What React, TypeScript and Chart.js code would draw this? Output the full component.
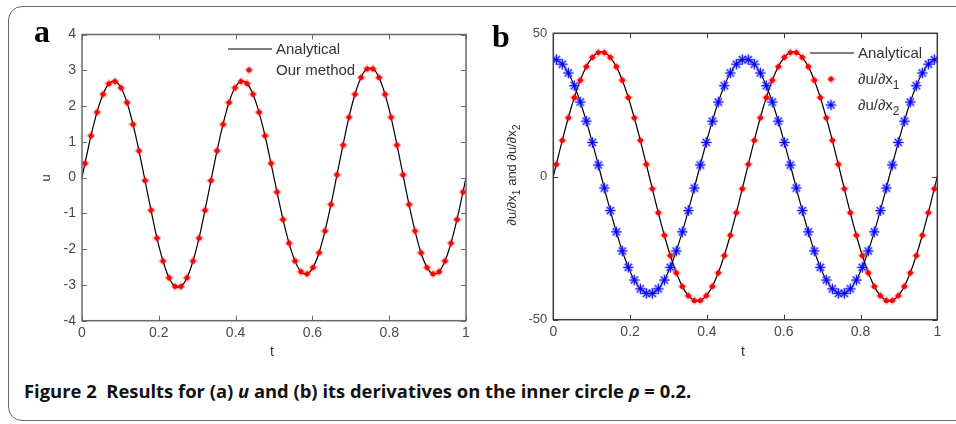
import React, { useEffect, useRef } from "react";
import { Chart, registerables } from "chart.js";
Chart.register(...registerables);

// ---------- data ----------
const markerT = [
  0.0078, 0.0234, 0.0391, 0.0547, 0.0703, 0.0859, 0.1016, 0.1172, 0.1328, 0.1484, 0.1641, 0.1797, 0.1953, 0.2109, 0.2266, 0.2422,
  0.2578, 0.2734, 0.2891, 0.3047, 0.3203, 0.3359, 0.3516, 0.3672, 0.3828, 0.3984, 0.4141, 0.4297, 0.4453, 0.4609, 0.4766, 0.4922,
  0.5078, 0.5234, 0.5391, 0.5547, 0.5703, 0.5859, 0.6016, 0.6172, 0.6328, 0.6484, 0.6641, 0.6797, 0.6953, 0.7109, 0.7266, 0.7422,
  0.7578, 0.7734, 0.7891, 0.8047, 0.8203, 0.8359, 0.8516, 0.8672, 0.8828, 0.8984, 0.9141, 0.9297, 0.9453, 0.9609, 0.9766, 0.9922,
];

const uMarkers = [
  0.40, 1.17, 1.83, 2.33, 2.63, 2.69, 2.51, 2.10, 1.49, 0.75, -0.08, -0.91, -1.69, -2.33, -2.80, -3.04,
  -3.04, -2.80, -2.33, -1.69, -0.91, -0.08, 0.75, 1.49, 2.10, 2.51, 2.69, 2.63, 2.33, 1.83, 1.17, 0.40,
  -0.40, -1.17, -1.83, -2.33, -2.63, -2.69, -2.51, -2.10, -1.49, -0.75, 0.08, 0.91, 1.69, 2.33, 2.80, 3.04,
  3.04, 2.80, 2.33, 1.69, 0.91, 0.08, -0.75, -1.49, -2.10, -2.51, -2.69, -2.63, -2.33, -1.83, -1.17, -0.40,
];
const uEnds = [0, 0];

const dx1Markers = [
  4.26, 12.63, 20.51, 27.60, 33.63, 38.36, 41.63, 43.29, 43.29, 41.63, 38.36, 33.63, 27.60, 20.51, 12.63, 4.26,
  -4.26, -12.63, -20.51, -27.60, -33.63, -38.36, -41.63, -43.29, -43.29, -41.63, -38.36, -33.63, -27.60, -20.51, -12.63, -4.26,
  4.26, 12.63, 20.51, 27.60, 33.63, 38.36, 41.63, 43.29, 43.29, 41.63, 38.36, 33.63, 27.60, 20.51, 12.63, 4.26,
  -4.26, -12.63, -20.51, -27.60, -33.63, -38.36, -41.63, -43.29, -43.29, -41.63, -38.36, -33.63, -27.60, -20.51, -12.63, -4.26,
];
const dx1Ends = [0, 0];

const dx2Markers = [
  40.80, 39.23, 36.16, 31.69, 26.01, 19.33, 11.90, 4.02, -4.02, -11.90, -19.33, -26.01, -31.69, -36.16, -39.23, -40.80,
  -40.80, -39.23, -36.16, -31.69, -26.01, -19.33, -11.90, -4.02, 4.02, 11.90, 19.33, 26.01, 31.69, 36.16, 39.23, 40.80,
  40.80, 39.23, 36.16, 31.69, 26.01, 19.33, 11.90, 4.02, -4.02, -11.90, -19.33, -26.01, -31.69, -36.16, -39.23, -40.80,
  -40.80, -39.23, -36.16, -31.69, -26.01, -19.33, -11.90, -4.02, 4.02, 11.90, 19.33, 26.01, 31.69, 36.16, 39.23, 40.80,
];
const dx2Ends = [41, 41];

const tRange = [0, 1];
const tStep = 0.2;
const uRange = [-4, 4];
const uStep = 1;
const dRange = [-50, 50];
const dStep = 50;

// ---------- styling ----------
const SANS = "'Liberation Sans', Arial, Helvetica, sans-serif";
const TICK_COLOR = "#4a4a4a";

function pts(ts: number[], ys: number[]) {
  return ts.map((t, i) => ({ x: t, y: ys[i] }));
}
function linePts(ends: number[], ts: number[], ys: number[]) {
  return [{ x: tRange[0], y: ends[0] }, ...pts(ts, ys), { x: tRange[1], y: ends[1] }];
}

function makeRedDot() {
  const c = document.createElement("canvas");
  c.width = 9;
  c.height = 9;
  const g = c.getContext("2d")!;
  g.fillStyle = "rgba(255,0,0,0.45)";
  g.fillRect(0.5, 3.5, 8, 2);
  g.fillRect(3.5, 0.5, 2, 8);
  g.beginPath();
  g.arc(4.5, 4.5, 2.6, 0, Math.PI * 2);
  g.fillStyle = "#ff0000";
  g.fill();
  return c;
}

function makeBlueStar() {
  const c = document.createElement("canvas");
  c.width = 15;
  c.height = 15;
  const g = c.getContext("2d")!;
  const cx = 7.5;
  const r = 5.2;
  const arms = (lw: number, col: string) => {
    g.strokeStyle = col;
    g.lineWidth = lw;
    g.beginPath();
    for (let i = 0; i < 4; i++) {
      const a = (i * Math.PI) / 4;
      g.moveTo(cx - r * Math.cos(a), cx - r * Math.sin(a));
      g.lineTo(cx + r * Math.cos(a), cx + r * Math.sin(a));
    }
    g.stroke();
  };
  arms(2.6, "rgba(120,120,255,0.4)");
  arms(1.1, "#0000ff");
  return c;
}

type Part = { t: string; sub?: boolean };

function drawParts(ctx: CanvasRenderingContext2D, parts: Part[], x: number, y: number, size: number, align: "left" | "center") {
  const widths = parts.map((p) => {
    ctx.font = `${p.sub ? size * 0.8 : size}px ${SANS}`;
    return ctx.measureText(p.t).width;
  });
  const total = widths.reduce((a, b) => a + b, 0);
  let cx = align === "center" ? x - total / 2 : x;
  ctx.textAlign = "left";
  ctx.textBaseline = "middle";
  parts.forEach((p, i) => {
    ctx.font = `${p.sub ? size * 0.8 : size}px ${SANS}`;
    ctx.fillText(p.t, cx, p.sub ? y + size * 0.38 : y);
    cx += widths[i];
  });
}

type LegendEntry = { kind: "line" | "img"; img?: HTMLCanvasElement; parts: Part[] };

function decorPlugin(cfg: {
  frameColor: string;
  xTitle: string;
  xTitleX: number;
  xTitleY: number;
  yTitle: Part[];
  yTitleX: number;
  yTitleY: number;
  yTitleSize: number;
  legend: LegendEntry[];
  legX: number;
  legY: number;
  legGap: number;
  legSize: number;
}) {
  return {
    id: "decor",
    afterDatasetsDraw(chart: any) {
      const { ctx, chartArea: ca, scales } = chart;
      ctx.save();
      // frame
      ctx.strokeStyle = cfg.frameColor;
      ctx.lineWidth = 1.5;
      ctx.strokeRect(ca.left, ca.top, ca.right - ca.left, ca.bottom - ca.top);
      // inward ticks on all four sides
      const L = 5;
      ctx.lineWidth = 1;
      ctx.beginPath();
      scales.x.ticks.forEach((tk: any) => {
        const px = Math.round(scales.x.getPixelForValue(tk.value)) + 0.5;
        ctx.moveTo(px, ca.bottom);
        ctx.lineTo(px, ca.bottom - L);
        ctx.moveTo(px, ca.top);
        ctx.lineTo(px, ca.top + L);
      });
      scales.y.ticks.forEach((tk: any) => {
        const py = Math.round(scales.y.getPixelForValue(tk.value)) + 0.5;
        ctx.moveTo(ca.left, py);
        ctx.lineTo(ca.left + L, py);
        ctx.moveTo(ca.right, py);
        ctx.lineTo(ca.right - L, py);
      });
      ctx.stroke();

      // axis titles
      ctx.fillStyle = "#333";
      ctx.font = `14px ${SANS}`;
      ctx.textAlign = "center";
      ctx.textBaseline = "middle";
      ctx.fillText(cfg.xTitle, cfg.xTitleX, cfg.xTitleY);
      ctx.save();
      ctx.translate(cfg.yTitleX, cfg.yTitleY);
      ctx.rotate(-Math.PI / 2);
      drawParts(ctx, cfg.yTitle, 0, 0, cfg.yTitleSize, "center");
      ctx.restore();

      // legend
      cfg.legend.forEach((e, i) => {
        const y = cfg.legY + i * cfg.legGap;
        const x0 = cfg.legX;
        if (e.kind === "line") {
          ctx.strokeStyle = "#000";
          ctx.lineWidth = 1.2;
          ctx.beginPath();
          ctx.moveTo(x0 - 48, y);
          ctx.lineTo(x0 - 4, y);
          ctx.stroke();
        } else if (e.img) {
          ctx.drawImage(e.img, x0 - 27 - e.img.width / 2, y - e.img.height / 2);
        }
        ctx.fillStyle = "#333";
        drawParts(ctx, e.parts, x0, y + 0.5, cfg.legSize, "left");
      });
      ctx.restore();
    },
  };
}

function scaleOpts(range: number[], step: number, size: number, pad: number, fit: (s: any) => void) {
  return {
    type: "linear" as const,
    min: range[0],
    max: range[1],
    ticks: {
      stepSize: step,
      color: TICK_COLOR,
      font: { family: SANS, size },
      padding: pad,
      maxRotation: 0,
      autoSkip: false,
      callback: (v: any) => {
        const n = Number(v);
        return Number.isInteger(Math.round(n * 1e6) / 1e6) ? String(Math.round(n)) : n.toFixed(1);
      },
    },
    grid: { display: false, drawTicks: false },
    border: { display: false },
    afterFit: fit,
  };
}

export default function App() {
  const refA = useRef<HTMLCanvasElement>(null);
  const refB = useRef<HTMLCanvasElement>(null);

  useEffect(() => {
    const redDot = makeRedDot();
    const blueStar = makeBlueStar();

    const chartA = new Chart(refA.current!, {
      type: "line",
      data: {
        datasets: [
          {
            label: "Our method",
            data: pts(markerT, uMarkers),
            showLine: false,
            pointStyle: redDot as any,
            pointRadius: 4,
            order: 1,
          },
          {
            label: "Analytical",
            data: linePts(uEnds, markerT, uMarkers),
            borderColor: "#000",
            borderWidth: 1.2,
            pointRadius: 0,
            tension: 0.35,
            fill: false,
            order: 2,
          },
        ],
      },
      options: {
        responsive: false,
        animation: false,
        events: [],
        layout: { padding: { left: 0, top: 34.5, right: 14, bottom: 0 } },
        plugins: { legend: { display: false }, tooltip: { enabled: false } },
        scales: {
          x: scaleOpts(tRange, tStep, 14, 4, (s: any) => { s.height = 49.3; }),
          y: scaleOpts(uRange, uStep, 14, 6, (s: any) => { s.width = 82; }),
        },
      } as any,
      plugins: [
        decorPlugin({
          frameColor: "#6a6a6a",
          xTitle: "t",
          xTitleX: 272,
          xTitleY: 352,
          yTitle: [{ t: "u" }],
          yTitleX: 46,
          yTitleY: 178,
          yTitleSize: 13,
          legend: [
            { kind: "line", parts: [{ t: "Analytical" }] },
            { kind: "img", img: redDot, parts: [{ t: "Our method" }] },
          ],
          legX: 276,
          legY: 49,
          legGap: 21,
          legSize: 15,
        }) as any,
      ],
    });

    const chartB = new Chart(refB.current!, {
      type: "line",
      data: {
        datasets: [
          {
            label: "∂u/∂x1",
            data: pts(markerT, dx1Markers),
            showLine: false,
            pointStyle: redDot as any,
            pointRadius: 4,
            order: 1,
          },
          {
            label: "∂u/∂x2",
            data: pts(markerT, dx2Markers),
            showLine: false,
            pointStyle: blueStar as any,
            pointRadius: 5,
            order: 1,
          },
          {
            label: "Analytical",
            data: linePts(dx1Ends, markerT, dx1Markers),
            borderColor: "#000",
            borderWidth: 1.2,
            pointRadius: 0,
            tension: 0.35,
            fill: false,
            order: 2,
          },
          {
            label: "Analytical 2",
            data: linePts(dx2Ends, markerT, dx2Markers),
            borderColor: "#000",
            borderWidth: 1.2,
            pointRadius: 0,
            tension: 0.35,
            fill: false,
            order: 2,
          },
        ],
      },
      options: {
        responsive: false,
        animation: false,
        events: [],
        layout: { padding: { left: 0, top: 33.3, right: 18.7, bottom: 0 } },
        plugins: { legend: { display: false }, tooltip: { enabled: false } },
        scales: {
          x: scaleOpts(tRange, tStep, 14, 4, (s: any) => { s.height = 50.3; }),
          y: scaleOpts(dRange, dStep, 13, 6, (s: any) => { s.width = 73.3; }),
        },
      } as any,
      plugins: [
        decorPlugin({
          frameColor: "#3c3c3c",
          xTitle: "t",
          xTitleX: 263,
          xTitleY: 352,
          yTitle: [{ t: "∂u/∂x" }, { t: "1", sub: true }, { t: " and ∂u/∂x" }, { t: "2", sub: true }],
          yTitleX: 32,
          yTitleY: 175,
          yTitleSize: 13,
          legend: [
            { kind: "line", parts: [{ t: "Analytical" }] },
            { kind: "img", img: redDot, parts: [{ t: "∂u/∂x" }, { t: "1", sub: true }] },
            { kind: "img", img: blueStar, parts: [{ t: "∂u/∂x" }, { t: "2", sub: true }] },
          ],
          legX: 378,
          legY: 53,
          legGap: 26,
          legSize: 15,
        }) as any,
      ],
    });

    return () => {
      chartA.destroy();
      chartB.destroy();
    };
  }, []);

  return (
    <div
      style={{
        position: "absolute",
        left: 0,
        top: 0,
        width: 956,
        height: 424,
        overflow: "hidden",
        background: "#fff",
      }}
    >
      <div
        style={{
          position: "absolute",
          left: 7.5,
          top: 5.5,
          width: 1000,
          height: 415,
          border: "1.5px solid #666",
          borderRadius: 14,
          boxSizing: "border-box",
        }}
      />
      <canvas ref={refA} width={480} height={370} style={{ position: "absolute", left: 0, top: 0 }} />
      <canvas ref={refB} width={476} height={370} style={{ position: "absolute", left: 480, top: 0 }} />
      <div
        style={{
          position: "absolute",
          left: 34,
          top: 15,
          font: "bold 32px 'Liberation Serif', 'Times New Roman', serif",
          color: "#000",
          lineHeight: "32px",
        }}
      >
        a
      </div>
      <div
        style={{
          position: "absolute",
          left: 492,
          top: 20,
          font: "bold 32px 'Liberation Serif', 'Times New Roman', serif",
          color: "#000",
          lineHeight: "32px",
        }}
      >
        b
      </div>
      <div
        style={{
          position: "absolute",
          left: 24,
          top: 381,
          font: "bold 18.4px 'Open Sans', 'Noto Sans', sans-serif",
          color: "#111",
          lineHeight: "20px",
          whiteSpace: "nowrap",
        }}
      >
        Figure 2{"\u00a0\u00a0"}Results for (a) <i>u</i> and (b) its derivatives on the inner circle <i>ρ</i> = 0.2.
      </div>
    </div>
  );
}
